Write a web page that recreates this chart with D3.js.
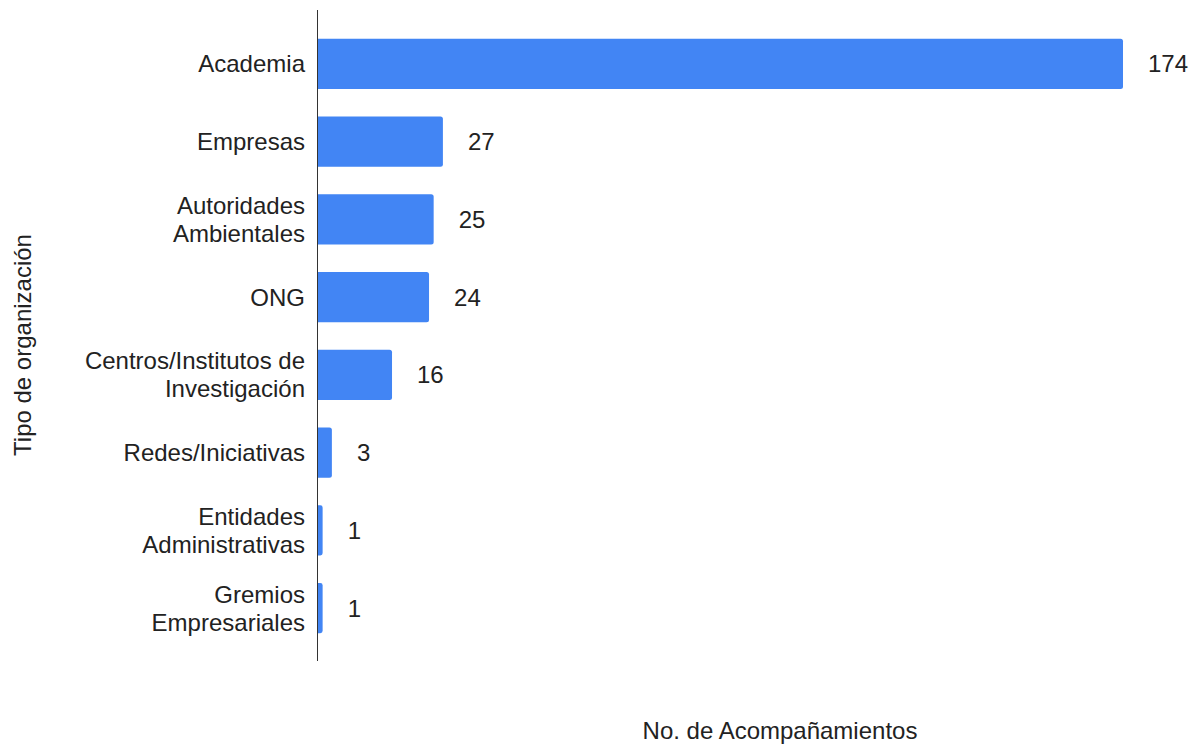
<!DOCTYPE html>
<html>
<head>
<meta charset="utf-8">
<script src="https://cdn.jsdelivr.net/npm/d3@7"></script>
<style>
  html, body { margin: 0; padding: 0; background: #fff; }
  svg { display: block; font-family: "Liberation Sans", Arial, sans-serif; }
</style>
</head>
<body>
<div id="chart"></div>
<script>
const categories = [
  ['Academia'],
  ['Empresas'],
  ['Autoridades', 'Ambientales'],
  ['ONG'],
  ['Centros/Institutos de', 'Investigación'],
  ['Redes/Iniciativas'],
  ['Entidades', 'Administrativas'],
  ['Gremios', 'Empresariales'],
];
const values = [174, 27, 25, 24, 16, 3, 1, 1];
const xTitle = 'No. de Acompañamientos';
const yTitle = 'Tipo de organización';

const W = 1199, H = 746;
const margin = { top: 25, right: 76, bottom: 99, left: 318 };
const BLUE = '#4285F4';
const FS = 24;

const svg = d3.select('#chart').append('svg')
  .attr('width', W).attr('height', H);

const keys = categories.map((c) => c.join(' '));

const x = d3.scaleLinear()
  .domain([0, 174])
  .range([margin.left, W - margin.right]);

const y = d3.scaleBand()
  .domain(keys)
  .range([margin.top, H - margin.bottom])
  .paddingInner(0.356)
  .paddingOuter(0.178);

// bars
svg.append('g').selectAll('path')
  .data(values)
  .join('path')
  .attr('fill', BLUE)
  .attr('d', (d, i) => {
    const x0 = x(0), x1 = x(d), y0 = y(keys[i]), h = y.bandwidth();
    const r = Math.min(2.5, (x1 - x0) / 2);
    return `M${x0},${y0}H${x1 - r}Q${x1},${y0} ${x1},${y0 + r}V${y0 + h - r}Q${x1},${y0 + h} ${x1 - r},${y0 + h}H${x0}Z`;
  });

// axis line
svg.append('line')
  .attr('x1', x(0) - 0.5).attr('x2', x(0) - 0.5)
  .attr('y1', 10).attr('y2', 661)
  .attr('stroke', '#333').attr('stroke-width', 1);

// value labels
svg.append('g').selectAll('text')
  .data(values)
  .join('text')
  .attr('x', (d) => x(d) + 25)
  .attr('y', (d, i) => y(keys[i]) + y.bandwidth() / 2)
  .attr('dy', '0.35em')
  .attr('font-size', FS)
  .attr('fill', '#222')
  .text((d) => d);

// category labels
const lineH = 28;
const catG = svg.append('g').selectAll('text')
  .data(categories)
  .join('text')
  .attr('text-anchor', 'end')
  .attr('font-size', FS)
  .attr('fill', '#222')
  .attr('y', (d, i) => y(keys[i]) + y.bandwidth() / 2);

catG.selectAll('tspan')
  .data((d) => d.map((t, j) => ({ t, j, n: d.length })))
  .join('tspan')
  .attr('x', 305)
  .attr('dy', (d) => d.j === 0 ? (0.35 * FS - (d.n - 1) * lineH / 2) : lineH)
  .text((d) => d.t);

// axis titles
svg.append('text')
  .attr('x', 780).attr('y', 739)
  .attr('text-anchor', 'middle')
  .attr('font-size', FS)
  .attr('fill', '#222')
  .text(xTitle);

svg.append('text')
  .attr('transform', 'translate(31,345) rotate(-90)')
  .attr('text-anchor', 'middle')
  .attr('font-size', FS)
  .attr('fill', '#222')
  .text(yTitle);
</script>
</body>
</html>
